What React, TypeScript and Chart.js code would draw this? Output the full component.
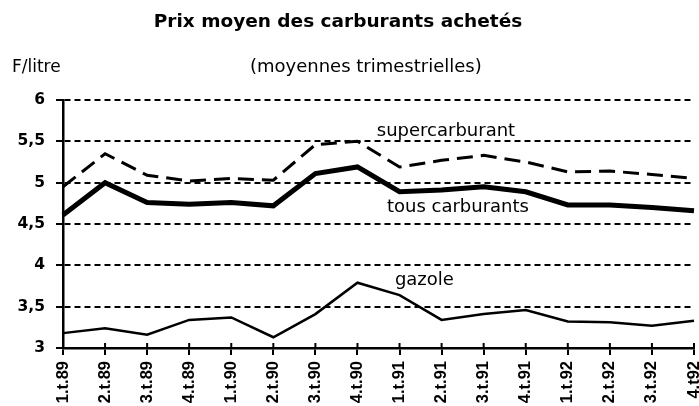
import React, { useEffect, useRef } from "react";
import { Chart, registerables } from "chart.js";

Chart.register(...registerables);

const quarters = ["1.t.89","2.t.89","3.t.89","4.t.89","1.t.90","2.t.90","3.t.90","4.t.90","1.t.91","2.t.91","3.t.91","4.t.91","1.t.92","2.t.92","3.t.92","4.t92"];
const supercarburant = [4.95,5.35,5.09,5.02,5.05,5.03,5.46,5.50,5.19,5.27,5.33,5.25,5.13,5.14,5.10,5.05];
const tousCarburants = [4.61,5.00,4.76,4.74,4.76,4.72,5.11,5.19,4.89,4.91,4.95,4.89,4.73,4.73,4.70,4.66];
const gazole = [3.18,3.24,3.16,3.34,3.37,3.13,3.41,3.79,3.64,3.34,3.41,3.46,3.32,3.31,3.27,3.33];

const yMin = 3;
const yMax = 6;
const yStep = 0.5;

const titleText = "Prix moyen des carburants achetés";
const unitText = "F/litre";
const subtitleText = "(moyennes trimestrielles)";

// series annotations: [text, x index anchor (left edge), y value (middle)]
const annotations: [string, number, number][] = [
  ["supercarburant", 7.46, 5.625],
  ["tous carburants", 7.7, 4.706],
  ["gazole", 7.89, 3.82],
];

const textPlugin = {
  id: "texts",
  afterDraw(chart: any) {
    const ctx = chart.ctx;
    const xs = chart.scales.x;
    const ys = chart.scales.y;
    const area = chart.chartArea;
    ctx.save();
    // extra tick marks above the x axis
    ctx.strokeStyle = "#000";
    ctx.lineWidth = 2;
    for (let i = 0; i < quarters.length; i++) {
      const px = xs.getPixelForValue(i);
      ctx.beginPath();
      ctx.moveTo(px, area.bottom - 5);
      ctx.lineTo(px, area.bottom);
      ctx.stroke();
    }
    ctx.fillStyle = "#000";
    ctx.textBaseline = "alphabetic";
    ctx.textAlign = "center";
    ctx.font = "bold 18.5px 'DejaVu Sans'";
    ctx.fillText(titleText, 338, 27);
    ctx.textAlign = "left";
    ctx.font = "17px 'DejaVu Sans'";
    ctx.fillText(unitText, 12, 72);
    ctx.font = "18px 'DejaVu Sans'";
    ctx.fillText(subtitleText, 250, 72);
    ctx.textBaseline = "middle";
    for (const [t, xi, yv] of annotations) {
      const px = xs.getPixelForValue(xi);
      const py = ys.getPixelForValue(yv);
      ctx.fillText(t, px, py);
    }
    ctx.restore();
  },
};

export default function App() {
  const ref = useRef<HTMLCanvasElement | null>(null);
  useEffect(() => {
    if (!ref.current) return;
    const chart = new Chart(ref.current, {
      type: "line",
      data: {
        labels: quarters,
        datasets: [
          { label: "supercarburant", data: supercarburant, borderColor: "#000", borderWidth: 3, borderDash: [16, 8], pointRadius: 0, tension: 0, fill: false },
          { label: "tous carburants", data: tousCarburants, borderColor: "#000", borderWidth: 5, pointRadius: 0, tension: 0, fill: false },
          { label: "gazole", data: gazole, borderColor: "#000", borderWidth: 2.5, pointRadius: 0, tension: 0, fill: false },
        ],
      },
      options: {
        responsive: false,
        animation: false,
        maintainAspectRatio: false,
        layout: { padding: { left: 0, right: 5, top: 100, bottom: 0 } },
        plugins: { legend: { display: false }, title: { display: false }, tooltip: { enabled: false } },
        scales: {
          x: {
            type: "category",
            offset: false,
            border: { display: true, color: "#000", width: 2.5, dash: [] },
            grid: { display: true, drawOnChartArea: false, drawTicks: true, tickLength: 7, color: "#000", lineWidth: 2 },
            ticks: {
              color: "#000",
              minRotation: 90,
              maxRotation: 90,
              autoSkip: false,
              padding: 6,
              font: { family: "'Liberation Sans'", size: 16.5, weight: "bold" },
            },
            afterFit(scale: any) {
              scale.height = 58;
              scale.paddingLeft = 0;
              scale.paddingRight = 0;
            },
          },
          y: {
            min: yMin,
            max: yMax,
            border: { display: true, color: "#000", width: 2.5, dash: [6, 4] },
            grid: { display: true, drawTicks: true, tickLength: 7, color: "#000", lineWidth: 2 },
            ticks: {
              stepSize: yStep,
              color: "#000",
              padding: 11,
              font: { family: "'DejaVu Sans'", size: 15.5, weight: "bold" },
              callback: (v: any) => String(v).replace(".", ","),
            },
            afterFit(scale: any) {
              scale.width = 63;
              scale.paddingTop = 0;
              scale.paddingBottom = 0;
            },
          },
        },
      },
      plugins: [textPlugin],
    });
    return () => chart.destroy();
  }, []);
  return (
    <div style={{ position: "absolute", left: 0, top: 0, width: 699, height: 406, background: "#fff" }}>
      <canvas ref={ref} width={699} height={406} />
    </div>
  );
}
